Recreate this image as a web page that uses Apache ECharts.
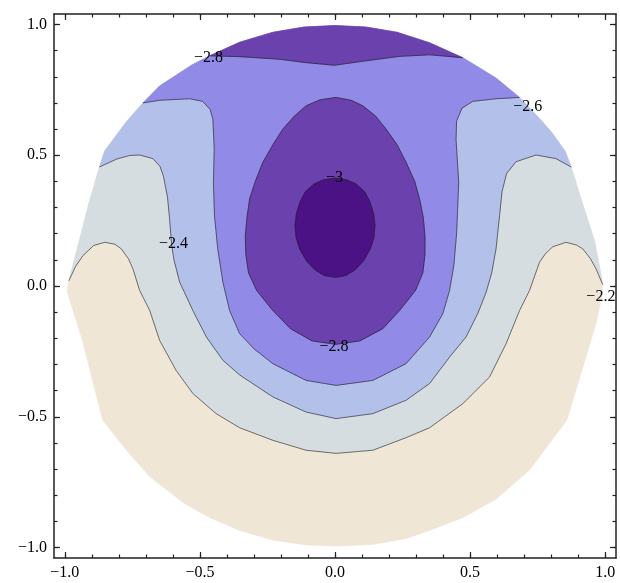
<!DOCTYPE html>
<html><head><meta charset="utf-8">
<script src="https://cdn.jsdelivr.net/npm/echarts@6/dist/echarts.min.js"></script>
<style>html,body{margin:0;padding:0;background:#fff}#c{width:620px;height:583px}</style>
</head><body><div id="c"></div>
<script>
// ---- tick values ----
const majorTicks = [-1, -0.5, 0, 0.5, 1];
const minorTicks = [-1,-0.9,-0.8,-0.7,-0.6,-0.5,-0.4,-0.3,-0.2,-0.1,0,0.1,0.2,0.3,0.4,0.5,0.6,0.7,0.8,0.9,1];

// ---- contour levels (band order: lowest -> highest) ----
const levels = [-3, -2.8, -2.6, -2.4, -2.2];

// ---- domain boundary (counter-clockwise, starting on the right near y=0) ----
const boundary = [[0.990,-0.030],[0.991,0.015],[0.962,0.167],[0.915,0.320],[0.874,0.455],[0.852,0.515],[0.800,0.590],[0.757,0.640],[0.683,0.721],[0.596,0.795],[0.473,0.873],[0.350,0.930],[0.230,0.970],[0.115,0.990],[0.000,0.996],[-0.115,0.990],[-0.230,0.970],[-0.353,0.932],[-0.464,0.880],[-0.530,0.845],[-0.649,0.765],[-0.711,0.700],[-0.772,0.628],[-0.852,0.517],[-0.872,0.455],[-0.910,0.320],[-0.948,0.167],[-0.985,0.020],[-0.992,-0.020],[-0.935,-0.208],[-0.860,-0.513],[-0.772,-0.628],[-0.686,-0.728],[-0.563,-0.828],[-0.464,-0.886],[-0.353,-0.935],[-0.230,-0.972],[-0.107,-0.990],[0.004,-0.995],[0.140,-0.988],[0.263,-0.966],[0.350,-0.935],[0.473,-0.886],[0.596,-0.815],[0.720,-0.704],[0.858,-0.513],[0.929,-0.272],[0.966,-0.144]];

// ---- contour lines ----
const contourM22 = [[-0.985,0.020],[-0.960,0.075],[-0.933,0.116],[-0.893,0.155],[-0.852,0.167],[-0.815,0.160],[-0.791,0.142],[-0.765,0.105],[-0.748,0.066],[-0.723,-0.017],[-0.686,-0.093],[-0.649,-0.208],[-0.588,-0.323],[-0.526,-0.411],[-0.440,-0.488],[-0.353,-0.542],[-0.230,-0.590],[-0.107,-0.628],[0.004,-0.640],[0.140,-0.628],[0.263,-0.580],[0.350,-0.542],[0.473,-0.450],[0.572,-0.348],[0.633,-0.221],[0.683,-0.094],[0.720,-0.017],[0.757,0.091],[0.780,0.125],[0.806,0.150],[0.855,0.167],[0.893,0.157],[0.917,0.142],[0.945,0.105],[0.966,0.066],[0.991,0.005]];
const contourM24 = [[-0.872,0.455],[-0.809,0.485],[-0.760,0.499],[-0.723,0.501],[-0.674,0.487],[-0.648,0.458],[-0.635,0.420],[-0.620,0.340],[-0.613,0.267],[-0.605,0.160],[-0.596,0.100],[-0.575,0.015],[-0.557,-0.025],[-0.526,-0.094],[-0.476,-0.195],[-0.415,-0.284],[-0.353,-0.340],[-0.230,-0.424],[-0.107,-0.482],[0.004,-0.507],[0.140,-0.488],[0.263,-0.437],[0.350,-0.373],[0.424,-0.272],[0.485,-0.195],[0.528,-0.106],[0.559,-0.025],[0.580,0.050],[0.596,0.142],[0.609,0.269],[0.618,0.360],[0.635,0.430],[0.670,0.475],[0.744,0.501],[0.818,0.487],[0.874,0.455]];
const contourM26 = [[-0.711,0.700],[-0.649,0.710],[-0.538,0.716],[-0.490,0.706],[-0.462,0.675],[-0.452,0.638],[-0.447,0.524],[-0.450,0.396],[-0.446,0.269],[-0.434,0.142],[-0.415,0.015],[-0.390,-0.094],[-0.353,-0.182],[-0.300,-0.240],[-0.230,-0.297],[-0.107,-0.361],[0.004,-0.380],[0.140,-0.361],[0.263,-0.297],[0.350,-0.195],[0.399,-0.106],[0.424,-0.017],[0.440,0.080],[0.450,0.200],[0.458,0.396],[0.448,0.560],[0.450,0.630],[0.470,0.680],[0.510,0.706],[0.596,0.716],[0.683,0.721]];
const contourM28top = [[-0.464,0.880],[-0.353,0.877],[-0.205,0.867],[-0.107,0.854],[-0.002,0.844],[0.115,0.861],[0.239,0.878],[0.350,0.884],[0.473,0.873]];
const contourM28egg = [[0.004,0.721],[0.060,0.710],[0.103,0.689],[0.150,0.650],[0.189,0.600],[0.230,0.540],[0.263,0.473],[0.295,0.400],[0.313,0.333],[0.327,0.260],[0.333,0.190],[0.333,0.120],[0.325,0.050],[0.298,-0.017],[0.239,-0.094],[0.177,-0.163],[0.092,-0.210],[0.004,-0.223],[-0.085,-0.210],[-0.165,-0.163],[-0.230,-0.094],[-0.290,-0.017],[-0.320,0.050],[-0.330,0.120],[-0.332,0.190],[-0.326,0.260],[-0.316,0.333],[-0.295,0.400],[-0.267,0.473],[-0.230,0.540],[-0.193,0.600],[-0.150,0.650],[-0.107,0.689],[-0.055,0.712]];
const contourM30 = [[0.000,0.413],[0.045,0.405],[0.078,0.390],[0.110,0.360],[0.130,0.320],[0.143,0.275],[0.148,0.232],[0.144,0.185],[0.130,0.140],[0.106,0.097],[0.075,0.062],[0.040,0.040],[0.000,0.033],[-0.040,0.040],[-0.075,0.062],[-0.106,0.097],[-0.130,0.140],[-0.144,0.185],[-0.148,0.232],[-0.143,0.275],[-0.130,0.320],[-0.110,0.360],[-0.078,0.390],[-0.045,0.405]];

// ---- contour labels ----
const labelText = ['−2.8', '−2.6', '−3', '−2.4', '−2.8', '−2.2'];
const labelX = [-0.468, 0.713, -0.002, -0.598, -0.004, 0.984];
const labelY = [0.872, 0.686, 0.414, 0.162, -0.234, -0.043];

// ---- styles ----
const bandColors = ['#4b1286', '#6a41ad', '#918ae6', '#b3c0e9', '#d5dde0', '#efe6d6'];
const lineColor = 'rgba(30,30,30,0.6)';
const FONT = '"Liberation Serif", "Times New Roman", serif';

const above = y0 => boundary.filter(p => p[1] > y0);
const region22 = contourM22.concat(above(0.03));
const region24 = contourM24.concat(above(0.46));
const region26 = contourM26.concat(above(0.725));
const region28 = contourM28top.concat(above(0.885));

const fmt = v => (v < 0 ? '−' : '') + Math.abs(v).toFixed(1);
const R = 1.04;
function axis(pos, vals, len, showLabel, showLine) {
  return {
    type: 'value', position: pos, min: -R, max: R,
    axisLine: { show: showLine, onZero: false, lineStyle: { color: '#222', width: 1.5 } },
    axisTick: { show: true, inside: true, length: len, customValues: vals, lineStyle: { color: '#222', width: 1.2 } },
    axisLabel: { show: showLabel, customValues: vals, formatter: fmt, color: '#000',
      fontFamily: FONT, fontSize: 16, margin: 7 },
    splitLine: { show: false }
  };
}

const chart = echarts.init(document.getElementById('c'), null, { renderer: 'canvas' });
chart.setOption({
  animation: false,
  backgroundColor: '#fff',
  grid: { left: 54, right: 4, top: 14, bottom: 25 },
  xAxis: [
    axis('bottom', majorTicks, 6, true, true),
    axis('bottom', minorTicks, 3.5, false, false),
    axis('top', majorTicks, 6, false, true),
    axis('top', minorTicks, 3.5, false, false)
  ],
  yAxis: [
    axis('left', majorTicks, 6, true, true),
    axis('left', minorTicks, 3.5, false, false),
    axis('right', majorTicks, 6, false, true),
    axis('right', minorTicks, 3.5, false, false)
  ],
  series: [{
    type: 'custom', xAxisIndex: 0, yAxisIndex: 0, silent: true, clip: true,
    data: [[0, 0]],
    renderItem: function (params, api) {
      const pts = arr => arr.map(p => api.coord(p));
      const fillPoly = (arr, color) => ({ type: 'polygon', shape: { points: pts(arr) }, style: { fill: color, stroke: color, lineWidth: 0.5 } });
      const stroke = (arr, closed) => ({ type: closed ? 'polygon' : 'polyline', shape: { points: pts(arr) }, style: { fill: 'none', stroke: lineColor, lineWidth: 1 } });
      const children = [
        fillPoly(boundary, bandColors[5]),
        fillPoly(region22, bandColors[4]),
        fillPoly(region24, bandColors[3]),
        fillPoly(region26, bandColors[2]),
        fillPoly(region28, bandColors[1]),
        fillPoly(contourM28egg, bandColors[1]),
        fillPoly(contourM30, bandColors[0]),
        stroke(contourM22, false),
        stroke(contourM24, false),
        stroke(contourM26, false),
        stroke(contourM28top, false),
        stroke(contourM28egg, true),
        stroke(contourM30, true)
      ];
      for (let i = 0; i < labelText.length; i++) {
        const c = api.coord([labelX[i], labelY[i]]);
        children.push({ type: 'text', x: c[0], y: c[1],
          style: { text: labelText[i], font: '16px ' + FONT, fill: '#000', align: 'center', verticalAlign: 'middle' } });
      }
      return { type: 'group', children: children };
    }
  }]
});
</script></body></html>
